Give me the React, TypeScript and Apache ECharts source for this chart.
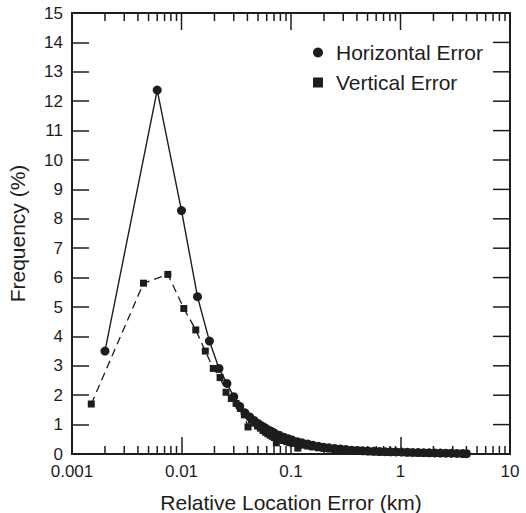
import React, { useEffect, useRef } from "react";
import * as echarts from "echarts";

const xTickLabels = ["0.001", "0.01", "0.1", "1", "10"];
const xDecades = [0.001, 0.01, 0.1, 1, 10];
const minorTickMultipliers = [2, 3, 4, 5, 6, 7, 8, 9];
const yTickValues = [0, 1, 2, 3, 4, 5, 6, 7, 8, 9, 10, 11, 12, 13, 14, 15];

const horizX = [
  0.002, 0.006, 0.01, 0.014, 0.018, 0.022, 0.026, 0.03, 0.034, 0.038, 0.042, 0.046, 0.05, 0.054,
  0.058, 0.062, 0.066, 0.07, 0.078, 0.086, 0.094, 0.102, 0.114, 0.126, 0.142, 0.158, 0.178,
  0.198, 0.222, 0.25, 0.282, 0.318, 0.358, 0.402, 0.45, 0.506, 0.57, 0.642, 0.722, 0.81, 0.91,
  1.022, 1.15, 1.29, 1.45, 1.63, 1.83, 2.058, 2.31, 2.598, 2.918, 3.278, 3.682, 3.998,
];
const horizY = [
  3.5, 12.38, 8.28, 5.35, 3.84, 2.91, 2.4, 1.95, 1.62, 1.4, 1.26, 1.14, 1.04, 0.96, 0.89, 0.82,
  0.77, 0.72, 0.64, 0.57, 0.52, 0.48, 0.42, 0.38, 0.34, 0.3, 0.26, 0.23, 0.21, 0.19, 0.17, 0.15,
  0.13, 0.12, 0.11, 0.1, 0.09, 0.085, 0.08, 0.075, 0.07, 0.065, 0.06, 0.055, 0.05, 0.045, 0.04,
  0.035, 0.03, 0.028, 0.025, 0.02, 0.015, 0.01,
];

const vertX = [
  0.0015, 0.0045, 0.0075, 0.0105, 0.0135, 0.0165, 0.0195, 0.0225, 0.0255, 0.0285, 0.0315, 0.0345,
  0.0375, 0.0405, 0.0435, 0.0465, 0.0495, 0.0525, 0.0555, 0.0585, 0.0615, 0.0645, 0.0675, 0.0705,
  0.0735, 0.0795, 0.0855, 0.0915, 0.0975, 0.1035, 0.1155, 0.1275, 0.1425, 0.1575, 0.1785, 0.1995,
  0.2235, 0.2505, 0.2805, 0.3195, 0.3585, 0.4005, 0.4515, 0.5055, 0.5715, 0.6405, 0.7215, 0.8115,
  0.9105, 1.0215, 1.1505, 1.2915, 1.4505, 1.6305, 1.8315, 2.0595, 2.3115, 2.5995, 2.9205, 3.2805,
  3.6795, 3.9975,
];
const vertY = [
  1.7, 5.81, 6.11, 4.95, 4.22, 3.5, 2.91, 2.6, 2.1, 1.89, 1.72, 1.55, 1.33, 0.92, 1.15, 1.05, 0.95,
  0.88, 0.8, 0.74, 0.69, 0.64, 0.6, 0.56, 0.38, 0.5, 0.46, 0.42, 0.39, 0.36, 0.2, 0.3, 0.27, 0.24,
  0.21, 0.19, 0.17, 0.15, 0.13, 0.12, 0.11, 0.1, 0.09, 0.08, 0.075, 0.07, 0.065, 0.06, 0.055, 0.05,
  0.045, 0.04, 0.035, 0.03, 0.028, 0.025, 0.022, 0.02, 0.018, 0.015, 0.012, 0.01,
];

const INK = "#1e1c1d";
const FONT = "'Liberation Sans', Arial, Helvetica, sans-serif";
const Y_MIN = 0;
const Y_MAX = 15;
const X_MAX = 10;

export default function App() {
  const ref = useRef<HTMLDivElement>(null);

  useEffect(() => {
    if (!ref.current) return;
    const chart = echarts.init(ref.current, undefined, { renderer: "svg" });

    // tick rows: [x, y, kind]; kind 0 = bottom minor, 1 = top minor, 2 = top major, 3 = right major
    const tickRows: number[][] = [];
    xDecades.slice(0, 4).forEach((d) => {
      minorTickMultipliers.forEach((m) => {
        tickRows.push([d * m, Y_MIN, 0]);
        tickRows.push([d * m, Y_MAX, 1]);
      });
    });
    xDecades.forEach((d) => tickRows.push([d, Y_MAX, 2]));
    yTickValues.forEach((v) => tickRows.push([X_MAX, v, 3]));

    chart.setOption({
      animation: false,
      grid: {
        left: 72,
        right: 16,
        top: 13,
        bottom: 59,
        outerBoundsMode: "none",
        containLabel: false,
        show: true,
        borderColor: INK,
        borderWidth: 2,
        backgroundColor: "transparent",
      },
      legend: {
        orient: "vertical",
        left: 308,
        top: 37,
        itemWidth: 10,
        itemHeight: 10,
        itemGap: 9,
        textStyle: {
          fontFamily: FONT,
          fontSize: 21,
          color: INK,
          lineHeight: 21,
          padding: [0, 0, 0, 8],
        },
        data: [
          { name: "Horizontal Error", icon: "circle" },
          { name: "Vertical Error", icon: "rect", itemStyle: { color: INK } },
        ],
      },
      xAxis: [
        {
          type: "log",
          min: 0.001,
          max: X_MAX,
          name: "Relative Location Error (km)",
          nameLocation: "middle",
          nameGap: 38,
          nameTextStyle: { fontFamily: FONT, fontSize: 21, color: INK },
          axisLine: { show: true, onZero: false, lineStyle: { color: INK, width: 2 } },
          axisTick: { show: true, inside: true, length: 17, lineStyle: { color: INK, width: 1.5 } },
          splitLine: { show: false },
          axisLabel: {
            fontFamily: FONT,
            fontSize: 17,
            color: INK,
            margin: 9,
            formatter: (v: number) => xTickLabels[Math.round(Math.log10(v)) + 3] ?? "",
          },
        },
      ],
      yAxis: [
        {
          type: "value",
          min: Y_MIN,
          max: Y_MAX,
          interval: 1,
          name: "Frequency (%)",
          nameLocation: "middle",
          nameGap: 44,
          nameTextStyle: { fontFamily: FONT, fontSize: 21, color: INK },
          axisLine: { show: true, onZero: false, lineStyle: { color: INK, width: 2 } },
          axisTick: { show: true, inside: true, length: 17, lineStyle: { color: INK, width: 1.5 } },
          splitLine: { show: false },
          axisLabel: { fontFamily: FONT, fontSize: 17, color: INK, margin: 9 },
        },
      ],
      series: [
        {
          name: "frame",
          type: "custom",
          silent: true,
          data: tickRows,
          encode: { x: 0, y: 1 },
          renderItem: (_p: any, api: any) => {
            const kind = api.value(2);
            const p = api.coord([api.value(0), api.value(1)]);
            let x2 = p[0];
            let y2 = p[1];
            if (kind === 0) y2 = p[1] - 8;
            else if (kind === 1) y2 = p[1] + 8;
            else if (kind === 2) y2 = p[1] + 17;
            else x2 = p[0] - 17;
            return {
              type: "line",
              shape: { x1: p[0], y1: p[1], x2, y2 },
              style: { stroke: INK, lineWidth: 1.5 },
            };
          },
        },
        {
          name: "Vertical Error",
          type: "line",
          data: vertX.map((x, i) => [x, vertY[i]]),
          symbol: "rect",
          symbolSize: 7,
          showAllSymbol: true,
          itemStyle: { color: INK },
          lineStyle: { color: INK, width: 1.3, type: [8, 5] },
          z: 3,
        },
        {
          name: "Horizontal Error",
          type: "line",
          data: horizX.map((x, i) => [x, horizY[i]]),
          symbol: "circle",
          symbolSize: 9,
          showAllSymbol: true,
          itemStyle: { color: INK },
          lineStyle: { color: INK, width: 1.4 },
          z: 4,
        },
      ],
    });

    return () => chart.dispose();
  }, []);

  return (
    <div
      ref={ref}
      style={{ position: "fixed", left: 0, top: 0, width: 526, height: 513, background: "#fff" }}
    />
  );
}
